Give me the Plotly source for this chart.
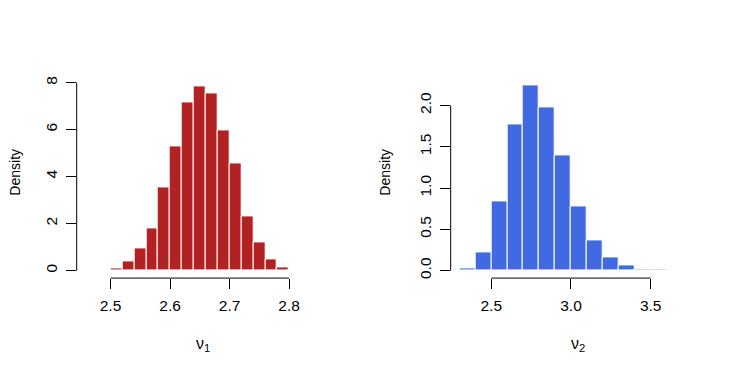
import plotly.graph_objects as go

# the page body adds an 8px margin, so the figure is drawn 8px smaller and
# every measured page pixel is shifted by OFF
OFF = 8
W, H = 747 - OFF, 374 - OFF

# nu_1 histogram (bin width 0.02)
nu1_edges = [2.48, 2.50, 2.52, 2.54, 2.56, 2.58, 2.60, 2.62, 2.64,
             2.66, 2.68, 2.70, 2.72, 2.74, 2.76, 2.78, 2.80, 2.82]
nu1_density = [0.02, 0.07, 0.39, 0.94, 1.79, 3.52, 5.28, 7.15, 7.86,
               7.56, 5.97, 4.58, 2.31, 1.20, 0.48, 0.15, 0.02]

# nu_2 histogram (bin width 0.1)
nu2_edges = [2.3, 2.4, 2.5, 2.6, 2.7, 2.8, 2.9, 3.0, 3.1, 3.2, 3.3, 3.4, 3.5, 3.6]
nu2_density = [0.028, 0.216, 0.84, 1.77, 2.24, 1.98, 1.39, 0.78, 0.365,
               0.16, 0.06, 0.016, 0.008]

nu1_xticks = [2.5, 2.6, 2.7, 2.8]
nu1_yticks = [0, 2, 4, 6, 8]
nu2_xticks = [2.5, 3.0, 3.5]
nu2_yticks = [0.0, 0.5, 1.0, 1.5, 2.0]

FONT = "Liberation Sans, Arial, Helvetica, sans-serif"


def px(p):
    return (p - OFF) / W


def py(p):
    return (H - (p - OFF)) / H


def mids(edges):
    return [(a + b) / 2 for a, b in zip(edges[:-1], edges[1:])]


def widths(edges):
    return [b - a for a, b in zip(edges[:-1], edges[1:])]


fig = go.Figure()
fig.add_trace(go.Bar(x=mids(nu1_edges), y=nu1_density, width=widths(nu1_edges),
                     marker=dict(color="#B22222", line=dict(color="white", width=1)),
                     xaxis="x", yaxis="y", showlegend=False))
fig.add_trace(go.Bar(x=mids(nu2_edges), y=nu2_density, width=widths(nu2_edges),
                     marker=dict(color="#4169E1", line=dict(color="white", width=1)),
                     xaxis="x2", yaxis="y2", showlegend=False))

ydom = [py(278.3), py(77)]
tick_font = dict(family=FONT, size=15.5, color="black")

xcommon = dict(showgrid=False, zeroline=False, showline=False, ticks="outside",
               ticklen=10, tickcolor="black", tickwidth=1, tickfont=tick_font,
               ticklabelstandoff=3, fixedrange=True)
ycommon = dict(showgrid=False, zeroline=False, showline=False, ticks="outside",
               ticklen=10, tickcolor="black", tickwidth=1, tickfont=tick_font,
               tickangle=-90, ticklabelstandoff=3, fixedrange=True)

fig.update_layout(
    width=W, height=H,
    margin=dict(l=0, r=0, t=0, b=0),
    paper_bgcolor="white", plot_bgcolor="white",
    bargap=0,
    font=dict(family=FONT, color="black"),
    xaxis=dict(xcommon, domain=[px(76.7), px(312.9)], range=[2.4432, 2.84],
               tickvals=nu1_xticks, tickformat=".1f", anchor="y"),
    yaxis=dict(ycommon, domain=ydom, range=[-0.32, 8.18],
               tickvals=nu1_yticks, anchor="x"),
    xaxis2=dict(xcommon, domain=[px(450.7), px(674.9)], range=[2.2454, 3.652],
                tickvals=nu2_xticks, tickformat=".1f", anchor="y2"),
    yaxis2=dict(ycommon, domain=ydom, range=[-0.091, 2.328],
                tickvals=nu2_yticks, tickformat=".1f", anchor="x2"),
)

# R-style axis lines spanning first to last tick only
for xa, ya, xt, yt in [("x", "y", nu1_xticks, nu1_yticks),
                       ("x2", "y2", nu2_xticks, nu2_yticks)]:
    fig.add_shape(type="line", xref=xa, yref=ya + " domain",
                  x0=xt[0], x1=xt[-1], y0=0, y1=0,
                  line=dict(color="black", width=1))
    fig.add_shape(type="line", xref=xa + " domain", yref=ya,
                  x0=0, x1=0, y0=yt[0], y1=yt[-1],
                  line=dict(color="black", width=1))

title_font = dict(family=FONT, size=14, color="black")
for xpix, label in [(15, "Density"), (385, "Density")]:
    fig.add_annotation(text=label, xref="paper", yref="paper",
                       x=px(xpix), y=py(172), textangle=-90,
                       showarrow=False, font=title_font,
                       xanchor="center", yanchor="middle")
for xpix, label in [(203, "ν<sub>1</sub>"), (578, "ν<sub>2</sub>")]:
    fig.add_annotation(text=label, xref="paper", yref="paper",
                       x=px(xpix), y=py(345), showarrow=False,
                       font=dict(family=FONT, size=16, color="black"),
                       xanchor="center", yanchor="middle")

fig.write_html("out.html")
